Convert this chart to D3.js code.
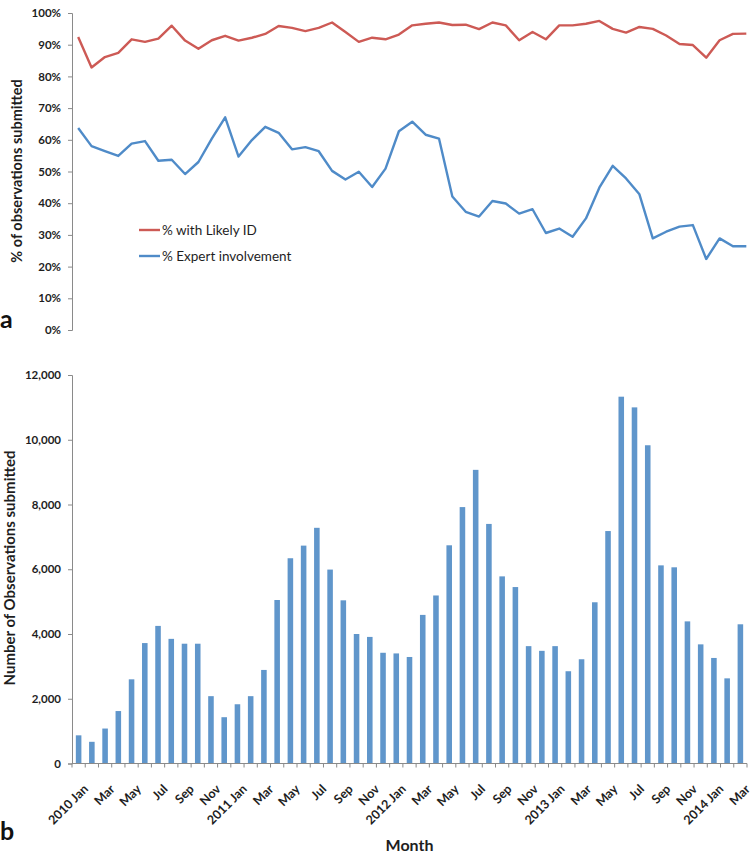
<!DOCTYPE html>
<html>
<head>
<meta charset="utf-8">
<script src="https://cdn.jsdelivr.net/npm/d3@7"></script>
<style>
  body { margin: 0; background: #fff; }
  svg { display: block; font-family: Lato, "Open Sans", sans-serif; }
</style>
</head>
<body>
<svg id="chart" width="756" height="859"></svg>
<script>
const months = ["2010 Jan","Feb","Mar","Apr","May","Jun","Jul","Aug","Sep","Oct","Nov","Dec",
  "2011 Jan","Feb","Mar","Apr","May","Jun","Jul","Aug","Sep","Oct","Nov","Dec",
  "2012 Jan","Feb","Mar","Apr","May","Jun","Jul","Aug","Sep","Oct","Nov","Dec",
  "2013 Jan","Feb","Mar","Apr","May","Jun","Jul","Aug","Sep","Oct","Nov","Dec",
  "2014 Jan","Feb","Mar"];

const likelyID = [92.4,82.8,86.1,87.4,91.7,90.9,91.9,96.0,91.3,88.7,91.4,92.8,
  91.3,92.2,93.4,95.9,95.3,94.3,95.3,97.0,94.0,90.9,92.2,91.7,
  93.2,96.1,96.6,97.0,96.2,96.3,94.9,97.0,96.1,91.4,94.0,91.7,
  96.1,96.1,96.6,97.5,95.0,93.8,95.6,95.0,92.9,90.2,89.9,85.9,
  91.4,93.4,93.5];

const expert = [63.7,58.0,56.4,54.9,58.8,59.6,53.4,53.7,49.2,53.0,60.4,67.1,
  54.7,59.9,64.1,62.2,57.0,57.7,56.4,50.2,47.5,49.9,45.1,50.9,
  62.7,65.7,61.6,60.4,42.1,37.3,35.8,40.7,39.9,36.7,38.1,30.6,
  32.0,29.4,35.2,44.9,51.8,47.8,42.8,28.9,31.0,32.6,33.1,22.4,
  28.9,26.4,26.4];

const observations = [870,670,1080,1620,2600,3720,4250,3850,3700,3700,2080,1430,
  1830,2080,2890,5050,6340,6730,7280,5990,5040,4000,3910,3420,
  3400,3290,4590,5190,6740,7920,9070,7400,5780,5450,3625,3480,
  3625,2850,3220,4980,7180,11330,11000,9830,6120,6060,4390,3680,
  3260,2630,4300];

const pctTicks = [0,10,20,30,40,50,60,70,80,90,100];
const countTicks = [0,2000,4000,6000,8000,10000,12000];
const seriesNames = ["% with Likely ID", "% Expert involvement"];

const idx = months.map((m, i) => i);

const svg = d3.select("#chart");
const axisColor = "#8a8a8a";
const textColor = "#1e1e1e";
const red = "#cd5a55";
const blue = "#4f8bc8";
const barColor = "#6096cb";

// ---------- Panel a ----------
const xTop = d3.scaleBand().domain(idx).range([71.5, 753]);
const yTop = d3.scaleLinear().domain([0, 100]).range([330, 13]);

const gTopAxis = svg.append("g").attr("transform", "translate(72,0)")
  .call(d3.axisLeft(yTop).tickValues(pctTicks).tickFormat(d => d + "%").tickSize(4).tickPadding(7));
gTopAxis.selectAll("path, line").attr("stroke", axisColor);
gTopAxis.selectAll("text").attr("font-size", 11.5).attr("font-weight", "bold")
  .attr("fill", textColor).attr("font-family", "Lato, sans-serif");

const lineTop = (vals) => d3.line()
  .x((d, i) => xTop(i) + xTop.bandwidth() / 2)
  .y(d => yTop(d))(vals);

svg.append("path").attr("d", lineTop(likelyID)).attr("fill", "none")
  .attr("stroke", red).attr("stroke-width", 2.4).attr("stroke-linejoin", "round");
svg.append("path").attr("d", lineTop(expert)).attr("fill", "none")
  .attr("stroke", blue).attr("stroke-width", 2.4).attr("stroke-linejoin", "round");

// legend
const legend = svg.append("g");
[[red, 230], [blue, 256]].forEach(([c, y], k) => {
  legend.append("line").attr("x1", 139).attr("x2", 160).attr("y1", y).attr("y2", y)
    .attr("stroke", c).attr("stroke-width", 2.4);
  legend.append("text").attr("x", 162).attr("y", y + 4.5).text(seriesNames[k])
    .attr("font-size", 13.5).attr("fill", textColor);
});

svg.append("text").attr("transform", "translate(22,171) rotate(-90)")
  .attr("text-anchor", "middle").attr("font-size", 14.5).attr("font-weight", "bold")
  .attr("fill", textColor).text("% of observations submitted");

svg.append("text").attr("x", 0).attr("y", 328).attr("font-size", 25)
  .attr("font-weight", "bold").attr("fill", "#111").text("a");

// ---------- Panel b ----------
const xBot = d3.scaleBand().domain(idx).range([72, 747]).paddingInner(0.58).paddingOuter(0.29);
const xBand = d3.scaleBand().domain(idx).range([72, 747]);
const yBot = d3.scaleLinear().domain([0, 12000]).range([763.5, 375]);

svg.append("g").selectAll("rect").data(observations).join("rect")
  .attr("x", (d, i) => xBot(i))
  .attr("width", xBot.bandwidth())
  .attr("y", d => yBot(d))
  .attr("height", d => yBot(0) - yBot(d))
  .attr("fill", barColor);

const gBotAxis = svg.append("g").attr("transform", "translate(72,0)")
  .call(d3.axisLeft(yBot).tickValues(countTicks).tickFormat(d3.format(",")).tickSize(4).tickPadding(7));
gBotAxis.selectAll("path, line").attr("stroke", axisColor);
gBotAxis.selectAll("text").attr("font-size", 11.5).attr("font-weight", "bold")
  .attr("fill", textColor).attr("font-family", "Lato, sans-serif");

// x axis line and boundary ticks
const y0 = yBot(0);
svg.append("line").attr("x1", 72).attr("x2", xBand.range()[1]).attr("y1", y0).attr("y2", y0)
  .attr("stroke", axisColor);
const bounds = idx.map(i => xBand(i)).concat([xBand.range()[1]]);
svg.append("g").selectAll("line").data(bounds).join("line")
  .attr("x1", d => d).attr("x2", d => d).attr("y1", y0).attr("y2", y0 + 4)
  .attr("stroke", axisColor);

svg.append("g").selectAll("text").data(idx.filter(i => i % 2 === 0)).join("text")
  .attr("transform", i => `translate(${xBand(i) + xBand.bandwidth() / 2 + 4},${y0 + 20}) rotate(-45)`)
  .attr("text-anchor", "end").attr("dy", "0.72em")
  .attr("font-size", 12.5).attr("font-weight", "bold").attr("fill", textColor)
  .text(i => months[i]);

svg.append("text").attr("transform", "translate(15,568) rotate(-90)")
  .attr("text-anchor", "middle").attr("font-size", 15).attr("font-weight", "bold")
  .attr("fill", textColor).text("Number of Observations submitted");

svg.append("text").attr("x", 409.5).attr("y", 851).attr("text-anchor", "middle")
  .attr("font-size", 16).attr("font-weight", "bold").attr("fill", textColor).text("Month");

svg.append("text").attr("x", 0).attr("y", 840).attr("font-size", 25)
  .attr("font-weight", "bold").attr("fill", "#111").text("b");
</script>
</body>
</html>
